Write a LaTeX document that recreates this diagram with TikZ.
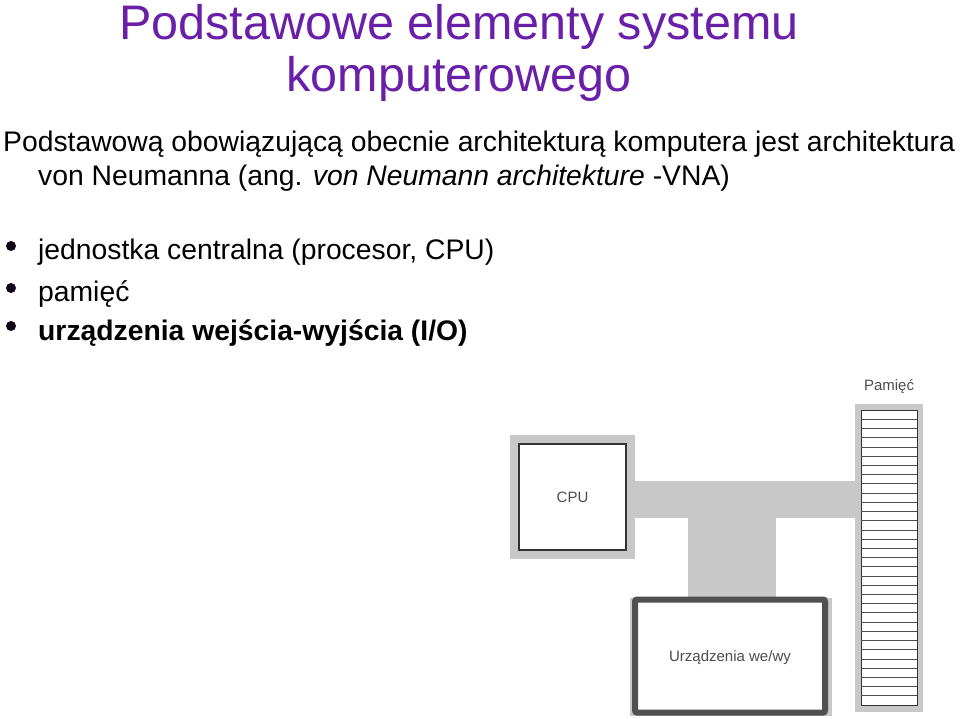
\documentclass[tikz,border=0pt]{standalone}
\usepackage{fontspec}
\setmainfont{Liberation Sans}
\definecolor{titlec}{HTML}{6A1FA8}
\definecolor{busg}{HTML}{C8C8C8}
\definecolor{boxg}{HTML}{505050}
\begin{document}
\begin{tikzpicture}[x=1pt,y=-1pt,
  body/.style={anchor=base west,inner sep=0pt,font=\fontsize{28.3}{32}\selectfont},
  ttl/.style={anchor=base,inner sep=0pt,text=titlec,font=\fontsize{48.5}{54}\selectfont},
  lbl/.style={inner sep=0pt,text=black!70,font=\fontsize{15}{17}\selectfont},
  bul/.style={circle,fill=black!85!titlec,inner sep=0pt,minimum size=10pt},
  shade/.style={fill=busg,draw=none}]
\useasboundingbox (0,0) rectangle (960,719);
\node[ttl] (t1) at (459,40) {Podstawowe elementy systemu};
\node[ttl] (t2) at (459,92) {komputerowego};
\node[body] (l1) at (3,152) {Podstawową obowiązującą obecnie architekturą komputera jest architektura};
\node[body] (l2) at (38,186) {von Neumanna (ang. \textit{von Neumann architekture} -VNA)};
\node[bul] (b1) at (11,246) {}; \node[body] (i1) at (38,259) {jednostka centralna (procesor, CPU)};
\node[bul] (b2) at (11,288) {}; \node[body] (i2) at (38,301) {pamięć};
\node[bul] (b3) at (11,326) {}; \node[body] (i3) at (38,340) {\textbf{urządzenia wejścia-wyjścia (I/O)}};
% gray bus
\fill[shade] (510,435) rectangle (635,559);
\fill[shade] (635,481) rectangle (860,518);
\fill[shade] (688,518) rectangle (776,600);
\fill[shade] (630,598) rectangle (832,716);
\fill[shade] (855,404) rectangle (923,712);
% CPU
\node[draw=black!80,line width=1.2pt,fill=white,minimum width=107pt,minimum height=106pt,inner sep=0pt] (cpu) at (572.5,497) {};
\node[lbl] (cpul) at (cpu) {CPU};
% IO
\node[draw=boxg,line width=6pt,rounded corners=2pt,fill=white,minimum width=190pt,minimum height=113pt,inner sep=0pt] (io) at (730,656) {};
\node[lbl] (iol) at (730,658) {Urządzenia we/wy};
% memory
\node[draw=black!80,line width=1pt,fill=white,minimum width=56pt,minimum height=295pt,inner sep=0pt] (mem) at (889,557.5) {};
\foreach \i in {1,...,31} \draw[black!70,line width=0.7pt] (861,410+\i*9.22) -- (917,410+\i*9.22);
\node[lbl] (meml) at (889,387) {Pamięć};
\end{tikzpicture}
\end{document}
